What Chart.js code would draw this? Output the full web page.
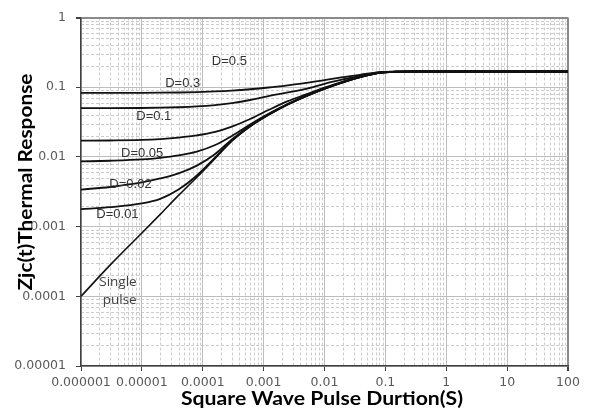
<!DOCTYPE html>
<html>
<head>
<meta charset="utf-8">
<script src="https://cdn.jsdelivr.net/npm/chart.js@4.4.1/dist/chart.umd.min.js"></script>
<style>
html,body{margin:0;padding:0;background:#fff;}
</style>
</head>
<body>
<canvas id="zthChart" width="592" height="412"></canvas>
<script>
// Pulse duration (s) at which the curves were read
const pulseT = [1e-6, 3e-6, 1e-5, 2e-5, 4e-5, 8e-5, 1.6e-4, 3e-4, 6e-4, 1.2e-3, 2.5e-3, 5e-3,
                1e-2, 2e-2, 4e-2, 8e-2, 0.15, 0.3, 1, 100];

// Zth values per duty cycle
const zD05    = [0.0830, 0.0830, 0.0831, 0.0834, 0.0840, 0.0852, 0.0870, 0.0895, 0.0935, 0.0990, 0.1065, 0.1150,
                 0.1265, 0.1390, 0.1520, 0.1640, 0.1675, 0.168, 0.168, 0.168];
const zD03    = [0.0500, 0.0500, 0.0503, 0.0508, 0.0516, 0.0530, 0.0555, 0.0592, 0.0655, 0.0745, 0.0840, 0.0950,
                 0.1120, 0.1290, 0.1470, 0.1630, 0.1670, 0.168, 0.168, 0.168];
const zD01    = [0.0171, 0.0172, 0.0175, 0.0180, 0.0189, 0.0203, 0.0228, 0.0272, 0.0350, 0.0470, 0.0630, 0.0790,
                 0.0985, 0.1205, 0.1425, 0.1618, 0.1667, 0.168, 0.168, 0.168];
const zD005   = [0.0086, 0.0088, 0.0092, 0.0097, 0.0105, 0.0119, 0.0148, 0.0200, 0.0292, 0.0415, 0.0578, 0.0757,
                 0.0960, 0.1185, 0.1415, 0.1612, 0.1665, 0.168, 0.168, 0.168];
const zD002   = [0.0034, 0.0037, 0.0043, 0.0049, 0.0058, 0.0075, 0.0110, 0.0178, 0.0281, 0.0406, 0.0570, 0.0750,
                 0.0955, 0.1180, 0.1410, 0.1610, 0.1665, 0.168, 0.168, 0.168];
const zD001   = [0.00178, 0.0019, 0.00215, 0.0025, 0.0034, 0.0054, 0.0098, 0.0171, 0.0276, 0.0402, 0.0566, 0.0745,
                 0.0950, 0.1175, 0.1405, 0.1605, 0.1665, 0.168, 0.168, 0.168];
const zSingle = [0.0001, 0.00028, 0.00081, 0.0015, 0.0028, 0.0051, 0.0095, 0.0168, 0.0272, 0.0398, 0.0562, 0.0740,
                 0.0944, 0.1170, 0.1400, 0.1600, 0.1665, 0.168, 0.168, 0.168];

const seriesNames = ["D=0.5", "D=0.3", "D=0.1", "D=0.05", "D=0.02", "D=0.01", "Single pulse"];
const seriesValues = [zD05, zD03, zD01, zD005, zD002, zD001, zSingle];

// Axis ticks
const xTicks = [1e-6, 1e-5, 1e-4, 1e-3, 1e-2, 0.1, 1, 10, 100];
const xTickLabels = ["0.000001", "0.00001", "0.0001", "0.001", "0.01", "0.1", "1", "10", "100"];
const yTicks = [1e-5, 1e-4, 1e-3, 1e-2, 0.1, 1];
const yTickLabels = ["0.00001", "0.0001", "0.001", "0.01", "0.1", "1"];

// Curve labels (data coordinates)
const noteText = ["D=0.5", "D=0.3", "D=0.1", "D=0.05", "D=0.02", "D=0.01", "Single", "pulse"];
const noteT = [2.74e-4, 4.68e-5, 1.57e-5, 1.01e-5, 6.5e-6, 3.97e-6, 4.05e-6, 4.32e-6];
const noteZ = [0.238, 0.1125, 0.038, 0.01135, 0.00408, 0.00152, 1.6e-4, 8.9e-5];

const xTitle = "Square Wave Pulse Durtion(S)";
const yTitle = "Zjc(t)Thermal Response";

// dashed minor gridlines (2..9 in each decade)
const minorGrid = {
    id: "minorGrid",
    beforeDraw(chart) {
        const ctx = chart.ctx, a = chart.chartArea;
        const xs = chart.scales.x, ys = chart.scales.y;
        ctx.save();
        ctx.strokeStyle = "#cccccc";
        ctx.lineWidth = 1;
        ctx.setLineDash([3, 2]);
        ctx.beginPath();
        for (let e = -6; e < 2; e++) {
            for (let k = 2; k <= 9; k++) {
                let px = Math.round(xs.getPixelForValue(k * Math.pow(10, e))) + 0.5;
                ctx.moveTo(px, a.top); ctx.lineTo(px, a.bottom);
            }
        }
        for (let e = -5; e < 0; e++) {
            for (let k = 2; k <= 9; k++) {
                let py = Math.round(ys.getPixelForValue(k * Math.pow(10, e))) + 0.5;
                ctx.moveTo(a.left, py); ctx.lineTo(a.right, py);
            }
        }
        ctx.stroke();
        ctx.restore();
    }
};

// curve labels + axis titles
function drawFitted(ctx, text, x, y, width, rot) {
    let w = ctx.measureText(text).width;
    ctx.save();
    ctx.translate(x, y);
    if (rot) ctx.rotate(rot);
    ctx.scale(width / w, 1);
    ctx.fillText(text, 0, 0);
    ctx.restore();
}

const textLayer = {
    id: "textLayer",
    afterDraw(chart) {
        const ctx = chart.ctx;
        const xs = chart.scales.x, ys = chart.scales.y;
        ctx.save();
        ctx.textAlign = "center";
        ctx.textBaseline = "middle";
        noteText.forEach((t, i) => {
            ctx.font = i < 6 ? '13px "Liberation Sans"' : '13.5px "Open Sans"';
            ctx.fillStyle = i < 6 ? "#333" : "#404040";
            ctx.fillText(t, xs.getPixelForValue(noteT[i]), ys.getPixelForValue(noteZ[i]));
        });
        ctx.fillStyle = "#000";
        ctx.textBaseline = "alphabetic";
        ctx.font = 'bold 18px Lato';
        drawFitted(ctx, xTitle, 322, 405, 282, 0);
        drawFitted(ctx, yTitle, 32, 182, 217, -Math.PI / 2);
        ctx.restore();
    }
};

const edgeColor = (edge) => (c) => (c.tick && c.tick.value === edge ? "#8a8a8a" : "#bdbdbd");
const edgeWidth = (edge) => (c) => (c.tick && c.tick.value === edge ? 2 : 1);

new Chart(document.getElementById("zthChart"), {
    type: "line",
    data: {
        datasets: seriesNames.map((n, i) => ({
            label: n,
            data: pulseT.map((t, j) => ({ x: t, y: seriesValues[i][j] })),
            borderColor: "#111",
            borderWidth: i === 6 ? 1.6 : 1.8,
            pointRadius: 0,
            fill: false,
            cubicInterpolationMode: "monotone"
        }))
    },
    options: {
        responsive: false,
        animation: false,
        devicePixelRatio: 1,
        layout: { padding: { top: 13, right: 24, left: 0, bottom: 0 } },
        plugins: { legend: { display: false }, tooltip: { enabled: false } },
        scales: {
            x: {
                type: "logarithmic", min: 1e-6, max: 100,
                afterBuildTicks: s => { s.ticks = xTicks.map(v => ({ value: v })); },
                afterFit: s => { s.height = 46; },
                ticks: {
                    autoSkip: false, maxRotation: 0, minRotation: 0, padding: 4,
                    color: "#595959", font: { family: "DejaVu Sans", size: 12.5 },
                    callback: (v, i) => xTickLabels[i]
                },
                grid: { color: edgeColor(100), lineWidth: edgeWidth(100), tickColor: "#404040", tickLength: 5 },
                border: { color: "#404040", width: 1.5 }
            },
            y: {
                type: "logarithmic", min: 1e-5, max: 1,
                afterBuildTicks: s => { s.ticks = yTicks.map(v => ({ value: v })); },
                afterFit: s => { s.width = 81; },
                ticks: {
                    autoSkip: false, padding: 10,
                    color: "#595959", font: { family: "DejaVu Sans", size: 12.5 },
                    callback: (v, i) => yTickLabels[i]
                },
                grid: { color: edgeColor(1), lineWidth: edgeWidth(1), tickColor: "#404040", tickLength: 5 },
                border: { color: "#404040", width: 1.5 }
            }
        }
    },
    plugins: [minorGrid, textLayer]
});
</script>
</body>
</html>
